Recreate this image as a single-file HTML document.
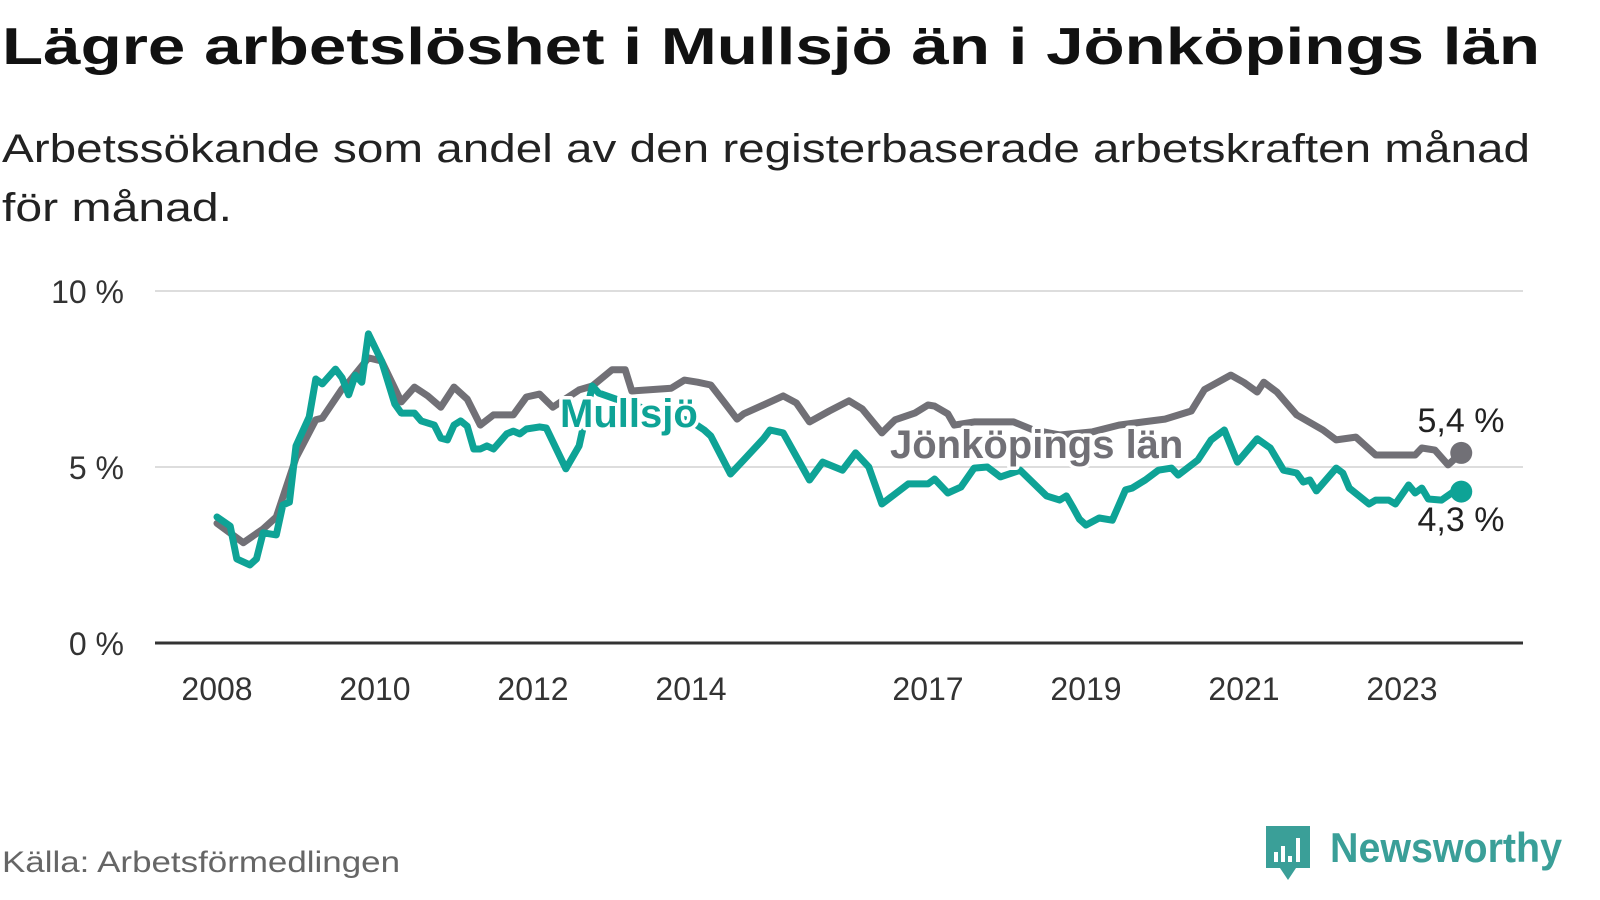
<!DOCTYPE html>
<html><head><meta charset="utf-8"><style>
html,body{margin:0;padding:0;background:#fff;}
svg{display:block;font-family:"Liberation Sans",sans-serif;}
</style></head><body>
<svg id="chart" width="1600" height="900" viewBox="0 0 1600 900" xmlns="http://www.w3.org/2000/svg">
<text x="2" y="64" font-size="52" font-weight="bold" fill="#111" textLength="1538" lengthAdjust="spacingAndGlyphs">Lägre arbetslöshet i Mullsjö än i Jönköpings län</text>
<text x="2" y="162" font-size="40" fill="#222" textLength="1528" lengthAdjust="spacingAndGlyphs">Arbetssökande som andel av den registerbaserade arbetskraften månad</text>
<text x="2" y="221" font-size="40" fill="#222" textLength="230" lengthAdjust="spacingAndGlyphs">för månad.</text>
<g id="grid"></g>
<g id="lines"></g>
<g id="labels"></g>
<text x="2" y="872" font-size="30" fill="#666" textLength="398" lengthAdjust="spacingAndGlyphs">Källa: Arbetsförmedlingen</text>
<g>
<path d="M1266 826 h44 v42 h-14 l-8 12 l-8 -12 h-14 z" fill="#3a9f98"/>
<rect x="1274" y="852" width="4" height="10" fill="#fff"/><rect x="1281" y="846" width="4" height="16" fill="#fff"/><rect x="1288" y="856" width="4" height="6" fill="#fff"/><rect x="1296" y="838" width="4" height="24" fill="#fff"/>
<text x="1330" y="862" font-size="42" font-weight="bold" fill="#3a9f98" textLength="232" lengthAdjust="spacingAndGlyphs">Newsworthy</text>
</g>
</svg>
<script>
const startYear = 2008;
const yTicks = [0, 5, 10];
const yTickLabels = ["0 %", "5 %", "10 %"];
const xTickYears = [2008, 2010, 2012, 2014, 2017, 2019, 2021, 2023];
const lanMonths = [0,4,7,9,12,15,16,19,20,23,25,28,30,32,34,36,38,40,42,45,47,49,51,55,57,60,62,63,69,71,73,75,77,79,80,83,86,88,90,93,96,98,101,103,106,108,109,111,112,115,121,124,128,133,137,144,148,150,154,156,158,159,161,164,168,170,173,176,182,183,185,187,189];
const lanValues = [3.4,2.85,3.24,3.58,5.26,6.34,6.39,7.22,7.41,8.1,8.01,6.85,7.27,7.02,6.7,7.27,6.93,6.19,6.48,6.48,6.99,7.07,6.7,7.19,7.3,7.76,7.76,7.16,7.24,7.47,7.41,7.33,6.85,6.36,6.51,6.76,7.02,6.82,6.28,6.59,6.88,6.65,5.97,6.34,6.53,6.76,6.73,6.51,6.19,6.28,6.28,6.05,5.91,6.0,6.19,6.36,6.59,7.2,7.61,7.4,7.13,7.41,7.13,6.48,6.05,5.77,5.85,5.34,5.34,5.54,5.48,5.06,5.4];
const mullMonths = [0,2,3,5,6,7,9,10,11,12,14,15,16,18,19,20,21,22,23,25,27,28,30,31,33,34,35,36,37,38,39,40,41,42,44,45,46,47,49,50,53,55,57,58,61,66,72,74,75,78,80,83,84,86,90,92,95,97,99,101,105,108,109,111,113,115,117,119,122,126,128,129,130,131,132,134,136,138,139,141,143,145,146,149,151,153,155,158,160,162,164,165,166,167,170,171,172,175,176,178,179,181,182,183,184,186,188,189];
const mullValues = [3.58,3.32,2.39,2.22,2.39,3.13,3.07,3.92,4.0,5.6,6.42,7.5,7.36,7.78,7.53,7.05,7.61,7.41,8.78,8.01,6.79,6.53,6.53,6.31,6.19,5.82,5.77,6.19,6.31,6.16,5.51,5.51,5.6,5.51,5.94,6.02,5.94,6.08,6.14,6.11,4.95,5.6,7.3,7.1,6.9,6.6,6.3,6.05,5.88,4.8,5.2,5.8,6.05,5.97,4.63,5.14,4.91,5.4,5.0,3.95,4.52,4.52,4.66,4.26,4.43,4.97,5.0,4.72,4.91,4.18,4.06,4.18,3.86,3.52,3.35,3.55,3.49,4.35,4.4,4.63,4.91,4.97,4.77,5.2,5.77,6.05,5.14,5.8,5.54,4.91,4.83,4.57,4.63,4.32,4.97,4.83,4.4,3.95,4.06,4.06,3.95,4.49,4.26,4.4,4.09,4.06,4.32,4.3];

const NS = "http://www.w3.org/2000/svg";
const x0 = 217, pxPerYear = 79, y0 = 643, pxPerUnit = 35.2;
function xScale(monthIndex){ return x0 + monthIndex / 12 * pxPerYear; }
function xYear(year){ return x0 + (year - startYear) * pxPerYear; }
function yScale(v){ return y0 - v * pxPerUnit; }
function mk(tag, attrs, parent){ const e = document.createElementNS(NS, tag); for (const k in attrs) e.setAttribute(k, attrs[k]); parent.appendChild(e); return e; }

const grid = document.getElementById("grid");
yTicks.forEach((t, i) => {
  const y = yScale(t);
  const ln = mk("line", {x1:155, x2:1523, y1:y, y2:y, stroke: t===0 ? "#333" : "#ddd", "stroke-width": t===0 ? 3 : 2}, grid);
  
  
  const tx = mk("text", {x:124, y:y+12, "font-size":32, fill:"#333", "text-anchor":"end"}, grid);
  tx.textContent = yTickLabels[i];
  
  
});
xTickYears.forEach(yr => {
  const tx = mk("text", {x:xYear(yr), y:700, "font-size":32, fill:"#333", "text-anchor":"middle"}, grid);
  tx.textContent = String(yr);
  
  
});

const lines = document.getElementById("lines");
function pathFor(months, vals){ return months.map((m,i)=> (i?"L":"M") + xScale(m).toFixed(1) + " " + yScale(vals[i]).toFixed(1)).join(" "); }
const lanPath = mk("path", {d:pathFor(lanMonths, lanValues), fill:"none", stroke:"#717076", "stroke-width":7, "stroke-linejoin":"round", "stroke-linecap":"round"}, lines);


const mullPath = mk("path", {d:pathFor(mullMonths, mullValues), fill:"none", stroke:"#0ea396", "stroke-width":7, "stroke-linejoin":"round", "stroke-linecap":"round"}, lines);



const lastL = lanMonths.length - 1, lastM = mullMonths.length - 1;
const dotL = mk("circle", {cx:xScale(lanMonths[lastL]), cy:yScale(lanValues[lastL]), r:11, fill:"#717076"}, lines);


const dotM = mk("circle", {cx:xScale(mullMonths[lastM]), cy:yScale(mullValues[lastM]), r:11, fill:"#0ea396"}, lines);



const labels = document.getElementById("labels");
function halo(x, y, txt, size, color, bold, anchor){
  const t = mk("text", {x:x, y:y, "font-size":size, fill:color, "font-weight": bold ? "bold" : "normal", "text-anchor":anchor, stroke:"#fff", "stroke-width":7, "paint-order":"stroke", "stroke-linejoin":"round"}, labels);
  t.textContent = txt;
  return t;
}
const l1 = halo(560, 427, "Mullsjö", 40, "#0ea396", true, "start");


const l2 = halo(890, 458, "Jönköpings län", 40, "#717076", true, "start");


const l3 = halo(1461, 432, lanValues[lastL].toFixed(1).replace(".", ",") + " %", 34, "#222", false, "middle");


const l4 = halo(1461, 531, mullValues[lastM].toFixed(1).replace(".", ",") + " %", 34, "#222", false, "middle");


</script>
</body></html>
